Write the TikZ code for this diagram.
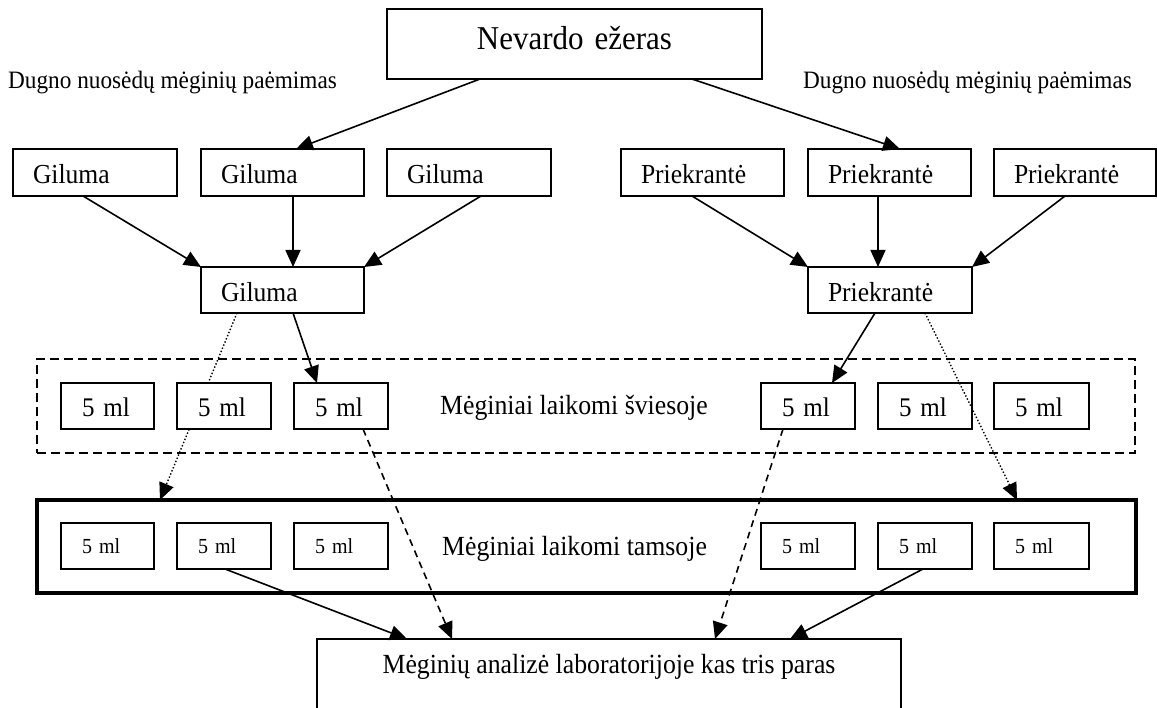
\documentclass[tikz,border=0pt]{standalone}
\usepackage{fontspec}
\setmainfont{Liberation Serif}[FakeStretch=0.93]
\usetikzlibrary{arrows.meta}
\begin{document}
\begin{tikzpicture}[x=1pt,y=-1pt,
  box/.style={draw, line width=1.4pt, fill=white, anchor=north west, outer sep=0pt,
    inner xsep=20pt, inner ysep=0pt, align=left, text depth=0pt},
  rowA/.style={box, minimum height=47pt, text height=23pt, font=\fontsize{27.5}{32}\selectfont},
  rowB/.style={box, minimum height=46pt, text height=24pt, font=\fontsize{27.5}{32}\selectfont},
  rowC/.style={box, inner xsep=21pt, minimum height=46pt, text height=22pt, font=\fontsize{26.9}{32}\selectfont},
  rowD/.style={box, inner xsep=21pt, minimum height=46pt, text height=14pt, font=\fontsize{21.5}{26}\selectfont},
  band/.style={draw, anchor=north west, outer sep=0pt, inner sep=0pt},
  lbl/.style={anchor=base west, inner sep=0pt, font=\fontsize{25}{30}\selectfont},
  blbl/.style={anchor=base west, inner sep=0pt, font=\fontsize{27.7}{32}\selectfont},
  tip/.tip={Triangle[length=17pt,width=15pt]},
  arr/.style={line width=1.6pt, -tip},
  darr/.style={line width=1.6pt, dash pattern=on 7pt off 5pt, -tip},
  dotarr/.style={line width=1.4pt, dash pattern=on 1.4pt off 2pt, -tip}]
\useasboundingbox (0,0) rectangle (1157,708);

% top
\node[box, minimum width=375pt, minimum height=70pt, text width=335pt, text height=12pt,
  align=center, font=\fontsize{33.3}{38}\selectfont] (nev) at (387,9) {Nevardo ežeras};
\node[lbl] (lblL) at (8,89) {Dugno nuosėdų mėginių paėmimas};
\node[lbl] (lblR) at (803,89) {Dugno nuosėdų mėginių paėmimas};

% row 1
\node[rowA, text width=124pt] (g1) at (13,149) {Giluma};
\node[rowA, text width=123pt] (g2) at (201,149) {Giluma};
\node[rowA, text width=124pt] (g3) at (387,149) {Giluma};
\node[rowA, text width=123pt] (p1) at (621,149) {Priekrantė};
\node[rowA, text width=123pt] (p2) at (808,149) {Priekrantė};
\node[rowA, text width=122pt] (p3) at (994,149) {Priekrantė};

% row 2
\node[rowB, text width=123pt] (gm) at (201,267) {Giluma};
\node[rowB, text width=124pt] (pm) at (808,267) {Priekrantė};

% bands
\node[band, line width=1.4pt, dash pattern=on 9pt off 5pt, minimum width=1098pt, minimum height=94pt] (light) at (37,359) {};
\node[band, line width=3.5pt, minimum width=1099pt, minimum height=93pt] (dark) at (37,500) {};
\node[blbl] (lightlbl) at (440,415) {Mėginiai laikomi šviesoje};
\node[blbl] (darklbl) at (442,555) {Mėginiai laikomi tamsoje};

% dotted arrow behind the boxes (left)
\draw[dotarr] ([xshift=36pt]gm.south west) -- ([xshift=123pt]dark.north west);

% row 3
\node[rowC, text width=51pt] (a1) at (61,383) {5 ml};
\node[rowC, text width=52pt] (a2) at (177,383) {5 ml};
\node[rowC, text width=52pt] (a3) at (294,383) {5 ml};
\node[rowC, text width=52pt] (a4) at (761,383) {5 ml};
\node[rowC, text width=52pt] (a5) at (878,383) {5 ml};
\node[rowC, text width=53pt] (a6) at (994,383) {5 ml};

% row 4
\node[rowD, text width=51pt] (b1) at (61,523) {5 ml};
\node[rowD, text width=52pt] (b2) at (177,523) {5 ml};
\node[rowD, text width=52pt] (b3) at (294,523) {5 ml};
\node[rowD, text width=52pt] (b4) at (761,523) {5 ml};
\node[rowD, text width=52pt] (b5) at (878,523) {5 ml};
\node[rowD, text width=53pt] (b6) at (994,523) {5 ml};

% bottom
\node[band, line width=1.4pt, minimum width=584pt, minimum height=71pt] (bot) at (317,639) {};
\node[anchor=base, inner sep=0pt, font=\fontsize{27.7}{32}\selectfont] (bottxt) at (609,673)
  {Mėginių analizė laboratorijoje kas tris paras};

% arrows
\draw[arr] ([xshift=93pt]nev.south west) -- ([xshift=95pt]g2.north west);
\draw[arr] ([xshift=305pt]nev.south west) -- ([xshift=92pt]p2.north west);
\draw[arr] ([xshift=70pt]g1.south west) -- (gm.north west);
\draw[arr] ([xshift=92pt]g2.south west) -- ([xshift=92pt]gm.north west);
\draw[arr] ([xshift=94pt]g3.south west) -- (gm.north east);
\draw[arr] ([xshift=71pt]p1.south west) -- (pm.north west);
\draw[arr] ([xshift=70pt]p2.south west) -- ([xshift=70pt]pm.north west);
\draw[arr] ([xshift=71pt]p3.south west) -- (pm.north east);
\draw[arr] ([xshift=92pt]gm.south west) -- ([xshift=23pt]a3.north west);
\draw[arr] ([xshift=67pt]pm.south west) -- ([xshift=71pt]a4.north west);
\draw[dotarr] ([xshift=117pt]pm.south west) -- ([xshift=980pt]dark.north west);
\draw[arr] ([xshift=48pt]b2.south west) -- ([xshift=90pt]bot.north west);
\draw[darr] ([xshift=69pt]a3.south west) -- ([xshift=135pt]bot.north west);
\draw[darr] ([xshift=22pt]a4.south west) -- ([xshift=398pt]bot.north west);
\draw[arr] ([xshift=45pt]b5.south west) -- ([xshift=473pt]bot.north west);
\end{tikzpicture}
\end{document}
